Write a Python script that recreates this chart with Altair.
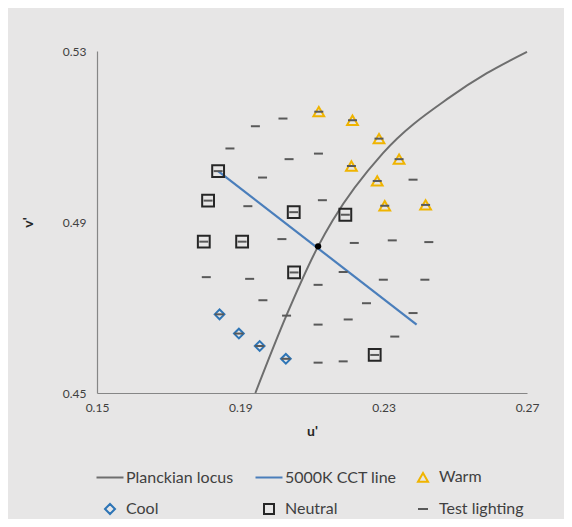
import altair as alt
import pandas as pd

# ---- data ----
planck_u = [0.1942, 0.2029, 0.2117, 0.2158, 0.2298, 0.2485, 0.2588, 0.2700]
planck_v = [0.4500, 0.4682, 0.4843, 0.4904, 0.5061, 0.5192, 0.5248, 0.5298]

cct_u = [0.1838, 0.2392]
cct_v = [0.5019, 0.4660]

center_u = [0.2117]
center_v = [0.4843]

warm_u = [0.2119, 0.2213, 0.2287, 0.2343, 0.2210, 0.2282, 0.2303, 0.2417]
warm_v = [0.5158, 0.5138, 0.5095, 0.5047, 0.5031, 0.4996, 0.4938, 0.4940]

cool_u = [0.1842, 0.1896, 0.1954, 0.2027]
cool_v = [0.4684, 0.4639, 0.4610, 0.4580]

neutral_u = [0.1838, 0.1810, 0.2049, 0.1798, 0.1905, 0.2050, 0.2193, 0.2275]
neutral_v = [0.5019, 0.4950, 0.4923, 0.4854, 0.4854, 0.4782, 0.4917, 0.4589]

other_test_u = [0.2019, 0.1942, 0.1871, 0.2036, 0.2118, 0.1962, 0.2382, 0.1921,
                0.2129, 0.2016, 0.2218, 0.2324, 0.2426, 0.1805, 0.1926, 0.2187,
                0.2299, 0.2415, 0.2117, 0.1963, 0.2252, 0.2382, 0.2029, 0.2201,
                0.2117, 0.2331, 0.2117, 0.2187]
other_test_v = [0.5142, 0.5124, 0.5072, 0.5047, 0.5060, 0.5004, 0.4999, 0.4937,
                0.4951, 0.4860, 0.4851, 0.4857, 0.4853, 0.4771, 0.4767, 0.4783,
                0.4765, 0.4765, 0.4753, 0.4717, 0.4710, 0.4687, 0.4681, 0.4672,
                0.4660, 0.4632, 0.4571, 0.4574]

test_u = other_test_u + warm_u + cool_u + neutral_u
test_v = other_test_v + warm_v + cool_v + neutral_v

series_names = ["Planckian locus", "5000K CCT line", "Warm", "Cool", "Neutral", "Test lighting"]
series_colors = ["#6E6E6E", "#4A7EBB", "#F0B400", "#2E75B6", "#262626", "#595959"]
series_shapes = ["M-2.7,0L2.7,0", "M-2.7,0L2.7,0", "triangle-up", "diamond", "square", "M-1,0L1,0"]

x_ticks = [0.15, 0.19, 0.23, 0.27]
y_ticks = [0.45, 0.49, 0.53]


def frame(us, vs, name):
    return pd.DataFrame({"u": us, "v": vs, "series": [name] * len(us)})


planck_df = frame(planck_u, planck_v, "Planckian locus")
cct_df = frame(cct_u, cct_v, "5000K CCT line")
warm_df = frame(warm_u, warm_v, "Warm")
cool_df = frame(cool_u, cool_v, "Cool")
neutral_df = frame(neutral_u, neutral_v, "Neutral")
test_df = frame(test_u, test_v, "Test lighting")
center_df = pd.DataFrame({"u": center_u, "v": center_v})

FONT = "Lato"

x_enc = alt.X("u:Q", scale=alt.Scale(domain=[0.15, 0.27], nice=False, zero=False),
              axis=alt.Axis(values=x_ticks, format=".2f", title="u'", labelFlush=False,
                            labelPadding=9, titlePadding=11))
y_enc = alt.Y("v:Q", scale=alt.Scale(domain=[0.45, 0.53], nice=False, zero=False),
              axis=alt.Axis(values=y_ticks, format=".2f", title="v'", labelFlush=False,
                            labelPadding=11, titlePadding=27))
color_enc = alt.Color("series:N", scale=alt.Scale(domain=series_names, range=series_colors),
                      legend=alt.Legend(title=None))
shape_enc = alt.Shape("series:N", scale=alt.Scale(domain=series_names, range=series_shapes),
                      legend=alt.Legend(title=None))

planck = alt.Chart(planck_df).mark_line(strokeWidth=2, interpolate="monotone").encode(
    x=x_enc, y=y_enc, color=color_enc)
cct = alt.Chart(cct_df).mark_line(strokeWidth=2.2).encode(x=x_enc, y=y_enc, color=color_enc)

warm = alt.Chart(warm_df).mark_point(filled=False, strokeWidth=2, size=115, opacity=1).encode(
    x=x_enc, y=y_enc, color=color_enc, shape=shape_enc)
cool = alt.Chart(cool_df).mark_point(filled=False, strokeWidth=2, size=95, opacity=1).encode(
    x=x_enc, y=y_enc, color=color_enc, shape=shape_enc)
neutral = alt.Chart(neutral_df).mark_point(filled=False, strokeWidth=2, size=140, opacity=1).encode(
    x=x_enc, y=y_enc, color=color_enc, shape=shape_enc)
test = alt.Chart(test_df).mark_point(filled=False, strokeWidth=2, size=81, opacity=1).encode(
    x=x_enc, y=y_enc, color=color_enc, shape=shape_enc)
center = alt.Chart(center_df).mark_circle(color="black", size=40, opacity=1).encode(x=x_enc, y=y_enc)

chart = alt.layer(planck, cct, warm, cool, neutral, test, center).properties(
    width=430, height=342,
    padding={"left": 89, "top": 43, "right": 37, "bottom": 126},
    autosize=alt.AutoSizeParams(type="none"),
    background="#E7E6E6",
).configure_view(stroke=None).configure_axis(
    grid=False, ticks=False, domainColor="#868686", domainWidth=1.2,
    labelFont=FONT, labelFontSize=12, labelColor="#404040",
    titleFont=FONT, titleFontSize=14, titleFontWeight="bold", titleColor="#262626",
).configure_legend(
    orient="none", legendX=5, legendY=418, columns=3, direction="horizontal",
    labelFont=FONT, labelFontSize=16, labelColor="#404040",
    symbolSize=100, symbolStrokeWidth=2, labelOffset=8,
    columnPadding=17, rowPadding=14, padding=0, labelLimit=300,
)

chart.save("out.html", embed_options={"renderer": "svg", "actions": False})
